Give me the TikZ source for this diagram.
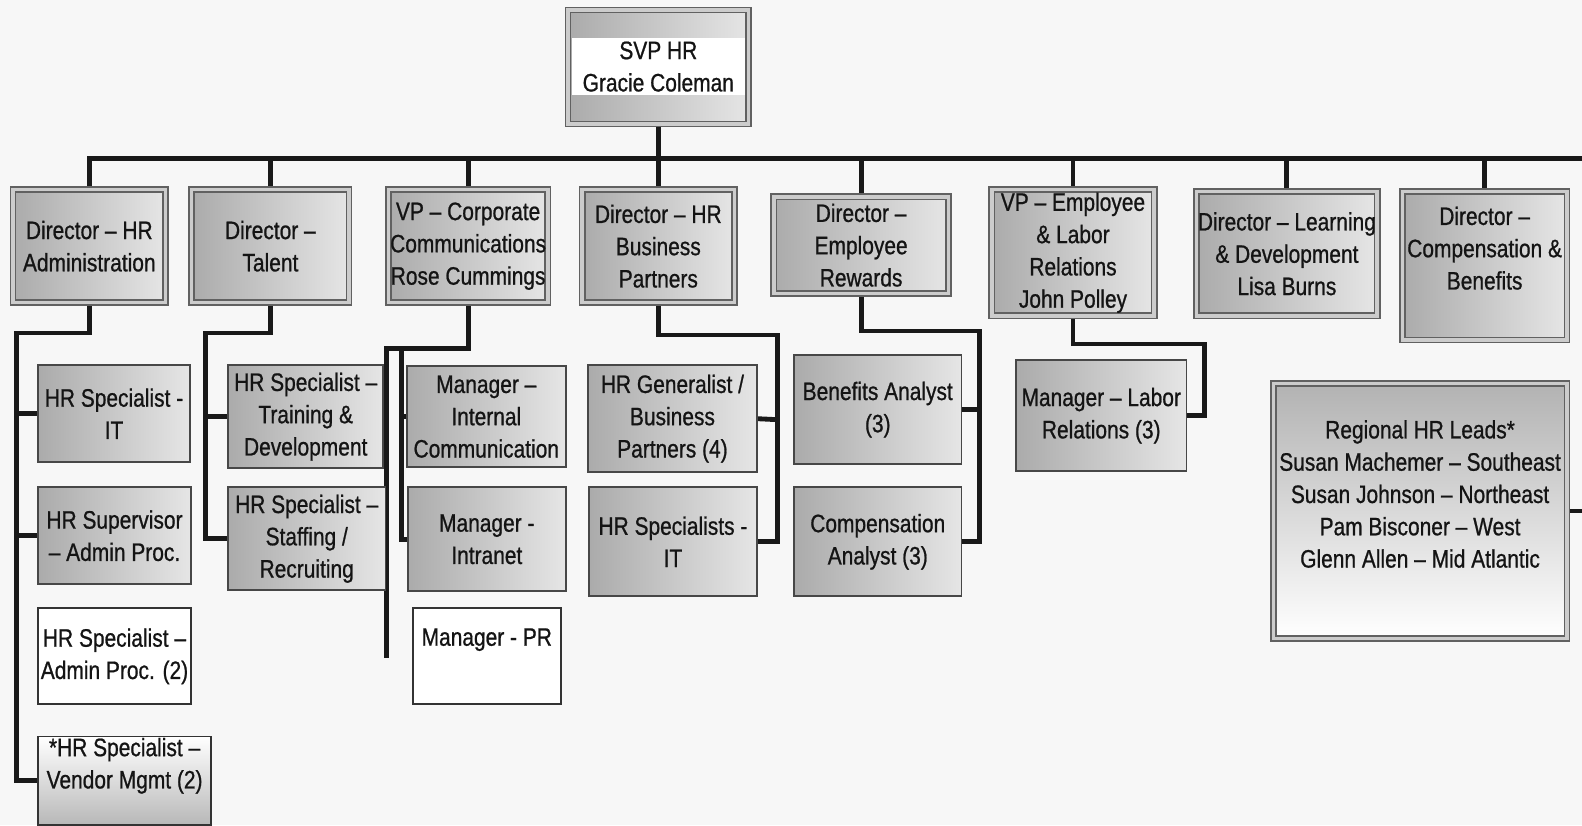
\documentclass[tikz,border=0pt]{standalone}
\usepackage{fontspec}
\setmainfont{Liberation Sans}[FakeStretch=0.83,FakeBold=0.8]
\pgfdeclarelayer{bg}
\pgfdeclarelayer{background}
\pgfsetlayers{bg,background,main}
\tikzset{
  base/.style={rectangle, inner sep=0pt, align=center, font=\fontsize{25}{32}\selectfont, text=black!92},
  topbox/.style={base, draw=black!62, line width=1.6pt, double=black!20, double distance=3.5pt, left color=black!33, right color=black!10},
  subbox/.style={base, draw=black!72, line width=1.8pt, left color=black!33, right color=black!10},
  whitebox/.style={base, draw=black!80, line width=1.8pt, fill=white},
  conn/.style={draw=black!90, line width=4.8pt, line join=miter},
  lbl/.style={base}
}
\begin{document}
\begin{tikzpicture}[x=1pt,y=-1pt]
\begin{pgfonlayer}{bg}
\fill[black!3] (0,0) rectangle (1568,818);
\end{pgfonlayer}
\useasboundingbox (0,0) rectangle (1568,818);

% top level
\node[topbox, minimum width=179, minimum height=113] (svp) at (652.5,66.5) {};
\node[lbl, fill=white, minimum width=172, minimum height=57] (svpl) at (652.5,66) {SVP HR\\Gracie Coleman};

\node[topbox, minimum width=151, minimum height=112] (t1) at (88.5,244) {Director -- HR\\Administration};
\node[topbox, minimum width=156, minimum height=112] (t2) at (268,244) {Director --\\Talent};
\node[topbox, minimum width=158, minimum height=112] (t3) at (464,244) {VP -- Corporate\\Communications\\Rose Cummings};
\node[topbox, minimum width=151, minimum height=112] (t4) at (652.5,244) {Director -- HR\\Business\\Partners};
\node[topbox, minimum width=173, minimum height=96] (t5) at (853.5,243) {Director --\\Employee\\Rewards};
\node[topbox, minimum width=161, minimum height=125] (t6) at (1063.5,250.5) {VP -- Employee\\\& Labor\\Relations\\John Polley};
\node[topbox, minimum width=179, minimum height=123] (t7) at (1275.5,251.5) {Director -- Learning\\\& Development\\Lisa Burns};
\node[topbox, minimum width=163, minimum height=147] (t8) at (1471.5,263.5) {};
\node[lbl] (t8l) at (1471.5,246) {Director --\\Compensation \&\\Benefits};

% column 1
\node[subbox, minimum width=150, minimum height=96] (c1a) at (113,410) {HR Specialist -\\IT};
\node[subbox, minimum width=151, minimum height=96] (c1b) at (113.5,531) {HR Supervisor\\-- Admin Proc.};
\node[whitebox, minimum width=151, minimum height=95] (c1c) at (113.5,650.5) {HR Specialist --\\Admin Proc. (2)};
\node[base, draw=black!80, line width=1.8pt, top color=white, middle color=white, bottom color=black!28, minimum width=171, minimum height=88] (c1d) at (123.5,774) {};
\node[lbl] (c1dl) at (123.5,759) {*HR Specialist --\\Vendor Mgmt (2)};

% column 2
\node[subbox, minimum width=154, minimum height=102] (c2a) at (303,413) {HR Specialist --\\Training \&\\Development};
\node[subbox, minimum width=156, minimum height=102] (c2b) at (304,534) {HR Specialist --\\Staffing /\\Recruiting};

% column 3
\node[subbox, minimum width=158, minimum height=100] (c3a) at (482,413) {Manager --\\Internal\\Communication};
\node[subbox, minimum width=157, minimum height=103] (c3b) at (482.5,534.5) {Manager -\\Intranet};
\node[whitebox, minimum width=147, minimum height=95] (c3c) at (482.5,650.5) {};
\node[lbl] (c3cl) at (482.5,634) {Manager - PR};

% column 4
\node[subbox, minimum width=167, minimum height=106] (c4a) at (666.5,415) {HR Generalist /\\Business\\Partners (4)};
\node[subbox, minimum width=166, minimum height=108] (c4b) at (667,537) {HR Specialists -\\IT};

% column 5
\node[subbox, minimum width=166, minimum height=108] (c5a) at (870,406) {Benefits Analyst\\(3)};
\node[subbox, minimum width=166, minimum height=108] (c5b) at (870,537) {Compensation\\Analyst (3)};

% column 6
\node[subbox, minimum width=169, minimum height=110] (c6a) at (1091.5,412) {Manager -- Labor\\Relations (3)};

% regional
\node[base, draw=black!62, line width=1.6pt, double=black!20, double distance=3.5pt, top color=black!30, bottom color=white, minimum width=291, minimum height=253] (reg) at (1407.5,506.5) {};
\node[lbl] (regl) at (1407.5,489.6) {Regional HR Leads*\\Susan Machemer -- Southeast\\Susan Johnson -- Northeast\\Pam Bisconer -- West\\Glenn Allen -- Mid Atlantic};

\coordinate (busR) at (1568,157);
\coordinate (c3end) at (383,652);

\begin{pgfonlayer}{background}
% bus
\draw[conn] (t1.north) |- (busR);
\draw[conn] (svp.south) -- (t4.north);
\foreach \n in {t2,t3,t5,t6,t7,t8}{\draw[conn] (\n.north) -- (\n.north |- busR);}
% column 1
\draw[conn] (t1.south) |- (16,330) |- (c1d.west);
\draw[conn] (16,410) -- (c1a.west);
\draw[conn] (16,531) -- (c1b.west);
% column 2
\draw[conn] (t2.south) |- (204,330) |- (c2b.west);
\draw[conn] (204,413) -- (c2a.west);
% column 3
\draw[conn] (t3.south) |- (383,345) -- (c3end);
\draw[conn] (383,345) -- (398,345) |- (c3b.west);
\draw[conn] (398,413) -- (c3a.west);
% column 4
\draw[conn] (t4.south) |- (771,332) |- (c4b.east);
\draw[conn] (771,416) -- (c4a.east);
% column 5
\draw[conn] (t5.south) |- (971,328) |- (c5b.east);
\draw[conn] (971,406) -- (c5a.east);
% column 6
\draw[conn] (t6.south) |- (1194,341) |- (c6a.east);
% regional
\draw[conn] (reg.east) -- (reg.east -| busR);
\end{pgfonlayer}
\end{tikzpicture}
\end{document}
